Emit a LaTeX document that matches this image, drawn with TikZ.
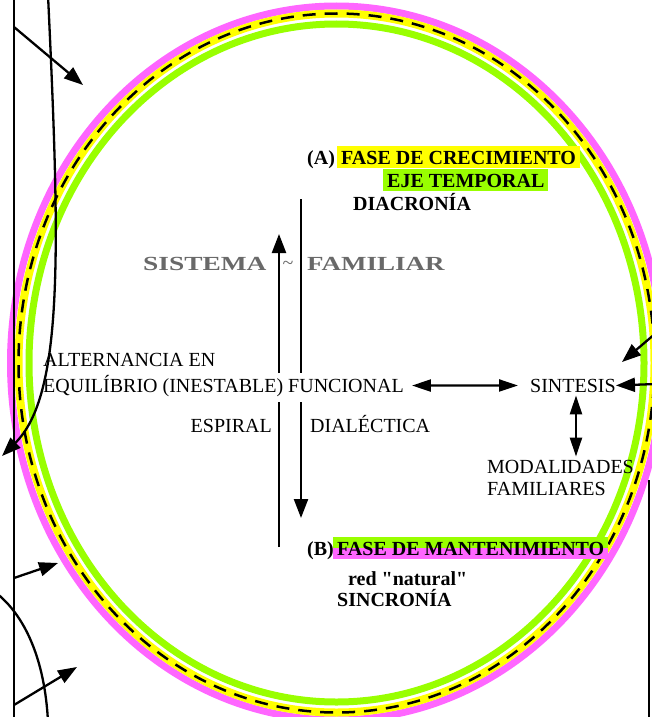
\documentclass[tikz,border=0pt]{standalone}
\usepackage{fontspec}
\setmainfont{Liberation Serif}
\definecolor{ringmagenta}{RGB}{255,102,255}
\definecolor{ringyellow}{RGB}{255,255,0}
\definecolor{ringgreen}{RGB}{153,255,0}
\definecolor{titlegray}{RGB}{105,105,105}
\usetikzlibrary{arrows.meta, positioning, calc}

\begin{document}
\begin{tikzpicture}[
  x=1pt, y=-1pt,
  every node/.style={font=\fontsize{20}{24}\selectfont},
  txt/.style={inner sep=0pt, anchor=base west},
  boldtxt/.style={inner sep=0pt, anchor=base west, font=\fontsize{20}{24}\selectfont\bfseries},
  hilite/.style={anchor=base west, inner xsep=4pt, inner ysep=2pt, text height=16pt, text depth=2pt, font=\fontsize{20}{24}\selectfont\bfseries},
  sistema/.style={inner sep=0pt, anchor=base west, text=titlegray, font=\fontsize{20}{24}\selectfont\bfseries},
  ring/.style={line width=7pt},
  line/.style={line width=2.3pt},
  arr/.style={-{Triangle[length=19pt,width=14pt]}, line width=2.3pt},
  dbl/.style={{Triangle[length=19pt,width=12pt]}-{Triangle[length=19pt,width=12pt]}, line width=2.3pt}
]
  \useasboundingbox (0,0) rectangle (652,717);
  \clip (0,0) rectangle (652,717);

  % anillos
  \draw[ring, ringmagenta] (336.5,363) ellipse [x radius=326, y radius=357];
  \draw[line width=8pt, ringyellow] (336.5,363) ellipse [x radius=318, y radius=349.5];
  \draw[line width=2.5pt, dash pattern=on 13pt off 9pt] (336.5,363) ellipse [x radius=318, y radius=349.5];
  \draw[ring, ringgreen] (336.5,363) ellipse [x radius=307.5, y radius=339];

  % fases
  \node[boldtxt] (a) at (307,164) {(A)};
  \node[hilite, fill=ringyellow] (crec) at (337,164) {FASE DE CRECIMIENTO};
  \node[hilite, fill=ringgreen] (eje) at (383,187) {EJE TEMPORAL};
  \node[boldtxt] (diac) at (353,210) {DIACRONÍA};

  \node[boldtxt] (b) at (307,555) {(B)};
  \node[hilite, path picture={
      \fill[ringgreen] (path picture bounding box.north west) rectangle (path picture bounding box.east);
      \fill[ringmagenta] (path picture bounding box.west) rectangle (path picture bounding box.south east);
    }] (mant) at (333,555) {FASE DE MANTENIMIENTO};
  \node[boldtxt] (red) at (348,585) {red \textquotedbl natural\textquotedbl};
  \node[boldtxt] (sinc) at (337,606) {SINCRONÍA};

  \node[sistema] (sis) at (143,270) {\scalebox{1.37}[1]{SISTEMA}};
  \node[inner sep=0pt, text=titlegray] (tilde) at (288,265) {\textasciitilde};
  \node[sistema] (fam) at (307,270) {\scalebox{1.35}[1]{FAMILIAR}};

  \node[txt] (alt1) at (43,366) {ALTERNANCIA EN};
  \node[txt] (alt2) at (43,392) {EQUILÍBRIO (INESTABLE) FUNCIONAL};
  \node[txt, anchor=base east] (esp) at (272,432) {ESPIRAL};
  \node[txt] (dia) at (310,432) {DIALÉCTICA};
  \node[txt] (sint) at (530,392) {SINTESIS};
  \node[txt] (mod1) at (487,473) {MODALIDADES};
  \node[txt] (mod2) at (487,495) {FAMILIARES};

  % espiral dialectica
  \coordinate (espbot) at (279,547);
  \coordinate (espgap) at (279,402);
  \coordinate (espup) at (279,373);
  \coordinate (esptip) at (279,234);
  \draw[line] (espbot) -- (espgap);
  \draw[arr] (espup) -- (esptip);
  \coordinate (diatop) at (301,199);
  \coordinate (diagap) at (301,373);
  \coordinate (diadown) at (301,402);
  \coordinate (diatip) at (301,518);
  \draw[line] (diatop) -- (diagap);
  \draw[arr] (diadown) -- (diatip);

  \draw[dbl] ([xshift=8pt]alt2.east) -- ([xshift=-12pt]sint.west);
  \draw[dbl, shorten <=3pt, shorten >=3pt] ([xshift=3pt]sint.south) -- ([xshift=3pt]sint.south |- mod1.north);

  % flechas de fuera
  \coordinate (rin1) at (656,333);
  \coordinate (rtip1) at (622,362);
  \coordinate (rin2) at (656,384);
  \draw[arr] (rin1) -- (rtip1);
  \draw[arr] (rin2) -- (sint.east);
  \coordinate (rtop) at (649,480);
  \coordinate (rbot) at (649,717);
  \draw[line] (rtop) -- (rbot);

  \coordinate (vtop) at (14,0);
  \coordinate (vbot) at (14,717);
  \draw[line] (vtop) -- (vbot);
  \coordinate (l1) at (14,27);
  \coordinate (t1) at (83,85);
  \coordinate (l2) at (14,578);
  \coordinate (t2) at (58,563);
  \coordinate (l3) at (14,705);
  \coordinate (t3) at (77,667);
  \draw[arr] (l1) -- (t1);
  \draw[arr] (l2) -- (t2);
  \draw[arr] (l3) -- (t3);

  \coordinate (c1a) at (48,-5);
  \coordinate (c1b) at (2,456);
  \draw[arr] (c1a) .. controls (60,250) and (64,395) .. (c1b);
  \coordinate (c2a) at (-5,592);
  \coordinate (c2b) at (48,722);
  \draw[line] (c2a) .. controls (25,615) and (45,660) .. (c2b);
\end{tikzpicture}
\end{document}
